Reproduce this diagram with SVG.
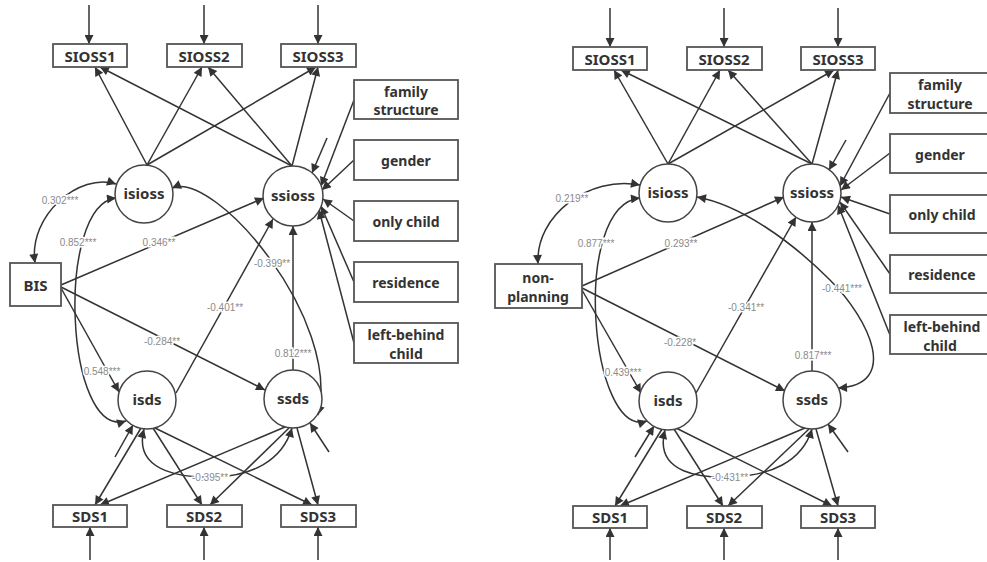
<svg xmlns="http://www.w3.org/2000/svg" width="987" height="562" viewBox="0 0 987 562">
<defs>
<marker id="ah" viewBox="0 0 10 10" refX="10" refY="5" markerWidth="11" markerHeight="9" markerUnits="userSpaceOnUse" orient="auto-start-reverse">
<path d="M0,0 L10,5 L0,10 z" fill="#333"/>
</marker>
<style>
.box{fill:#fff;stroke:#555;stroke-width:1.8}
.lat{fill:#fff;stroke:#444;stroke-width:1.5}
.t{font-family:"Noto Sans","Open Sans",sans-serif;font-weight:bold;fill:#333;text-anchor:middle;dominant-baseline:central}
.bt{font-size:15px}
.st{font-size:14px}
.ct{font-size:15px}
.ln{fill:none;stroke:#333;stroke-width:1.5;marker-end:url(#ah)}
.cv{fill:none;stroke:#333;stroke-width:1.5;marker-end:url(#ah);marker-start:url(#ah)}
.lb{font-family:"Liberation Sans",Arial,sans-serif;font-size:10px;fill:#8a8a8a;text-anchor:middle;dominant-baseline:central;stroke:#fff;stroke-width:3;paint-order:stroke}
</style>
</defs>

<g id="connectors">
<path class="ln" d="M89 5 V44"/>
<path class="ln" d="M204 5 V44"/>
<path class="ln" d="M318 5 V44"/>
<path class="ln" d="M147 165 L95 67"/>
<path class="ln" d="M147 165 L202 67"/>
<path class="ln" d="M147 165 L316 67"/>
<path class="ln" d="M292 166 L100 67"/>
<path class="ln" d="M292 166 L208 67"/>
<path class="ln" d="M292 166 L318 67"/>
<path class="ln" d="M327 138 L312 173"/>
<path class="ln" d="M354 100 L321 186"/>
<path class="ln" d="M354 160 L322 190"/>
<path class="ln" d="M354 221 L323 199"/>
<path class="ln" d="M354 282 L321 206"/>
<path class="ln" d="M354 343 L319 210"/>
<path class="cv" d="M35 263 C28 215 80 172 116 184"/>
<path class="cv" d="M116 198 C55 205 65 440 126 421"/>
<path class="ln" d="M61 285 L264 198"/>
<path class="ln" d="M61 287 L265 390"/>
<path class="ln" d="M61 288 L119 392"/>
<path class="ln" d="M176 393 L273 219"/>
<path class="ln" d="M293 370 V226"/>
<path class="cv" d="M172 188 C215 170 342 320 318 415"/>
<path class="ln" d="M115 457 L133 425"/>
<path class="ln" d="M329 452 L310 423"/>
<path class="ln" d="M141 428 L95 505"/>
<path class="ln" d="M285 427 L100 505"/>
<path class="ln" d="M153 428 L202 505"/>
<path class="ln" d="M289 428 L210 505"/>
<path class="ln" d="M155 428 L312 505"/>
<path class="ln" d="M297 428 L318 505"/>
<path class="cv" d="M144 429 C132 475 190 478 215 477 C250 476 282 462 292 428"/>
<path class="ln" d="M90 560 V527"/>
<path class="ln" d="M204 560 V527"/>
<path class="ln" d="M318 560 V527"/>

<path class="ln" d="M610 8 V47"/>
<path class="ln" d="M724 8 V47"/>
<path class="ln" d="M838 8 V47"/>
<path class="ln" d="M668 164 L614 70"/>
<path class="ln" d="M668 164 L720 70"/>
<path class="ln" d="M668 164 L834 70"/>
<path class="ln" d="M812 164 L621 70"/>
<path class="ln" d="M812 164 L728 70"/>
<path class="ln" d="M812 164 L838 70"/>
<path class="ln" d="M846 140 L829 170"/>
<path class="ln" d="M890 93 L840 186"/>
<path class="ln" d="M890 153 L841 190"/>
<path class="ln" d="M890 214 L841 197"/>
<path class="ln" d="M890 274 L840 202"/>
<path class="ln" d="M890 335 L838 205"/>
<path class="cv" d="M538 264 C535 215 590 175 640 185"/>
<path class="cv" d="M640 198 C570 205 590 440 647 421"/>
<path class="ln" d="M582 286 L784 197"/>
<path class="ln" d="M582 288 L785 391"/>
<path class="ln" d="M582 290 L641 393"/>
<path class="ln" d="M696 393 L796 217"/>
<path class="ln" d="M812 371 V222"/>
<path class="cv" d="M697 197 C740 205 790 240 830 280 C870 320 900 385 838 388"/>
<path class="ln" d="M635 457 L654 426"/>
<path class="ln" d="M848 452 L828 424"/>
<path class="ln" d="M662 429 L615 506"/>
<path class="ln" d="M805 428 L620 506"/>
<path class="ln" d="M674 429 L723 506"/>
<path class="ln" d="M809 429 L728 506"/>
<path class="ln" d="M676 428 L832 506"/>
<path class="ln" d="M816 429 L838 506"/>
<path class="cv" d="M665 430 C653 475 705 478 730 477 C770 476 802 462 812 429"/>
<path class="ln" d="M610 560 V528"/>
<path class="ln" d="M724 560 V528"/>
<path class="ln" d="M838 560 V528"/>

<text class="lb" x="60" y="200">0.302***</text>
<text class="lb" x="78" y="242">0.852***</text>
<text class="lb" x="159" y="242">0.346**</text>
<text class="lb" x="162" y="341">-0.284**</text>
<text class="lb" x="102" y="371">0.548***</text>
<text class="lb" x="225" y="307">-0.401**</text>
<text class="lb" x="272" y="263">-0.399**</text>
<text class="lb" x="293" y="353">0.812***</text>
<text class="lb" x="210" y="477">-0.395**</text>

<text class="lb" x="572" y="198">0.219**</text>
<text class="lb" x="596" y="243">0.877***</text>
<text class="lb" x="681" y="243">0.293**</text>
<text class="lb" x="680" y="342">-0.228*</text>
<text class="lb" x="623" y="372">0.439***</text>
<text class="lb" x="746" y="307">-0.341**</text>
<text class="lb" x="842" y="288">-0.441***</text>
<text class="lb" x="813" y="355">0.817***</text>
<text class="lb" x="730" y="477">-0.431**</text>
</g>

<g id="L_SIOSS1"><rect class="box" x="53" y="44" width="74" height="23"/><text class="t bt" x="90" y="56">SIOSS1</text></g>
<g id="L_SIOSS2"><rect class="box" x="167" y="44" width="75" height="23"/><text class="t bt" x="204" y="56">SIOSS2</text></g>
<g id="L_SIOSS3"><rect class="box" x="281" y="44" width="75" height="23"/><text class="t bt" x="318" y="56">SIOSS3</text></g>
<g id="L_family"><rect class="box" x="354" y="80" width="104" height="39"/><text class="t st" x="406" y="91">family</text><text class="t st" x="406" y="109">structure</text></g>
<g id="L_gender"><rect class="box" x="354" y="140" width="104" height="40"/><text class="t st" x="406" y="160">gender</text></g>
<g id="L_only"><rect class="box" x="354" y="201" width="104" height="40"/><text class="t st" x="406" y="221">only child</text></g>
<g id="L_res"><rect class="box" x="354" y="262" width="104" height="40"/><text class="t st" x="406" y="282">residence</text></g>
<g id="L_left"><rect class="box" x="354" y="323" width="104" height="40"/><text class="t st" x="406" y="334">left-behind</text><text class="t st" x="406" y="353">child</text></g>
<g id="L_isioss"><circle class="lat" cx="144" cy="194" r="29"/><text class="t ct" x="144" y="193">isioss</text></g>
<g id="L_ssioss"><circle class="lat" cx="293" cy="196" r="30"/><text class="t ct" x="293" y="195">ssioss</text></g>
<g id="L_BIS"><rect class="box" x="10" y="263" width="51" height="43"/><text class="t bt" x="35.5" y="285">BIS</text></g>
<g id="L_isds"><circle class="lat" cx="147" cy="400" r="29"/><text class="t ct" x="147" y="399">isds</text></g>
<g id="L_ssds"><circle class="lat" cx="293" cy="399" r="29"/><text class="t ct" x="293" y="398">ssds</text></g>
<g id="L_SDS1"><rect class="box" x="53" y="505" width="74" height="22"/><text class="t bt" x="90" y="516">SDS1</text></g>
<g id="L_SDS2"><rect class="box" x="167" y="505" width="75" height="22"/><text class="t bt" x="204" y="516">SDS2</text></g>
<g id="L_SDS3"><rect class="box" x="281" y="505" width="75" height="22"/><text class="t bt" x="318" y="516">SDS3</text></g>

<g id="R_SIOSS1"><rect class="box" x="573" y="47" width="74" height="23"/><text class="t bt" x="610" y="59">SIOSS1</text></g>
<g id="R_SIOSS2"><rect class="box" x="687" y="47" width="75" height="23"/><text class="t bt" x="724" y="59">SIOSS2</text></g>
<g id="R_SIOSS3"><rect class="box" x="801" y="47" width="74" height="23"/><text class="t bt" x="838" y="59">SIOSS3</text></g>
<g id="R_family"><rect class="box" x="890" y="73" width="100" height="40"/><text class="t st" x="940" y="84">family</text><text class="t st" x="940" y="103">structure</text></g>
<g id="R_gender"><rect class="box" x="890" y="134" width="100" height="39"/><text class="t st" x="940" y="154">gender</text></g>
<g id="R_only"><rect class="box" x="890" y="195" width="100" height="38"/><text class="t st" x="942" y="214">only child</text></g>
<g id="R_res"><rect class="box" x="890" y="255" width="100" height="38"/><text class="t st" x="942" y="274">residence</text></g>
<g id="R_left"><rect class="box" x="890" y="315" width="100" height="39"/><text class="t st" x="942" y="326">left-behind</text><text class="t st" x="940" y="345">child</text></g>
<g id="R_isioss"><circle class="lat" cx="668" cy="193" r="29"/><text class="t ct" x="668" y="192">isioss</text></g>
<g id="R_ssioss"><circle class="lat" cx="812" cy="193" r="29"/><text class="t ct" x="812" y="192">ssioss</text></g>
<g id="R_nonplanning"><rect class="box" x="495" y="264" width="87" height="44"/><text class="t st" x="538" y="277">non-</text><text class="t st" x="538" y="296">planning</text></g>
<g id="R_isds"><circle class="lat" cx="668" cy="401" r="29"/><text class="t ct" x="668" y="400">isds</text></g>
<g id="R_ssds"><circle class="lat" cx="812" cy="400" r="29"/><text class="t ct" x="812" y="399">ssds</text></g>
<g id="R_SDS1"><rect class="box" x="573" y="506" width="74" height="22"/><text class="t bt" x="610" y="517">SDS1</text></g>
<g id="R_SDS2"><rect class="box" x="687" y="506" width="75" height="22"/><text class="t bt" x="724" y="517">SDS2</text></g>
<g id="R_SDS3"><rect class="box" x="801" y="506" width="74" height="22"/><text class="t bt" x="838" y="517">SDS3</text></g>
</svg>
